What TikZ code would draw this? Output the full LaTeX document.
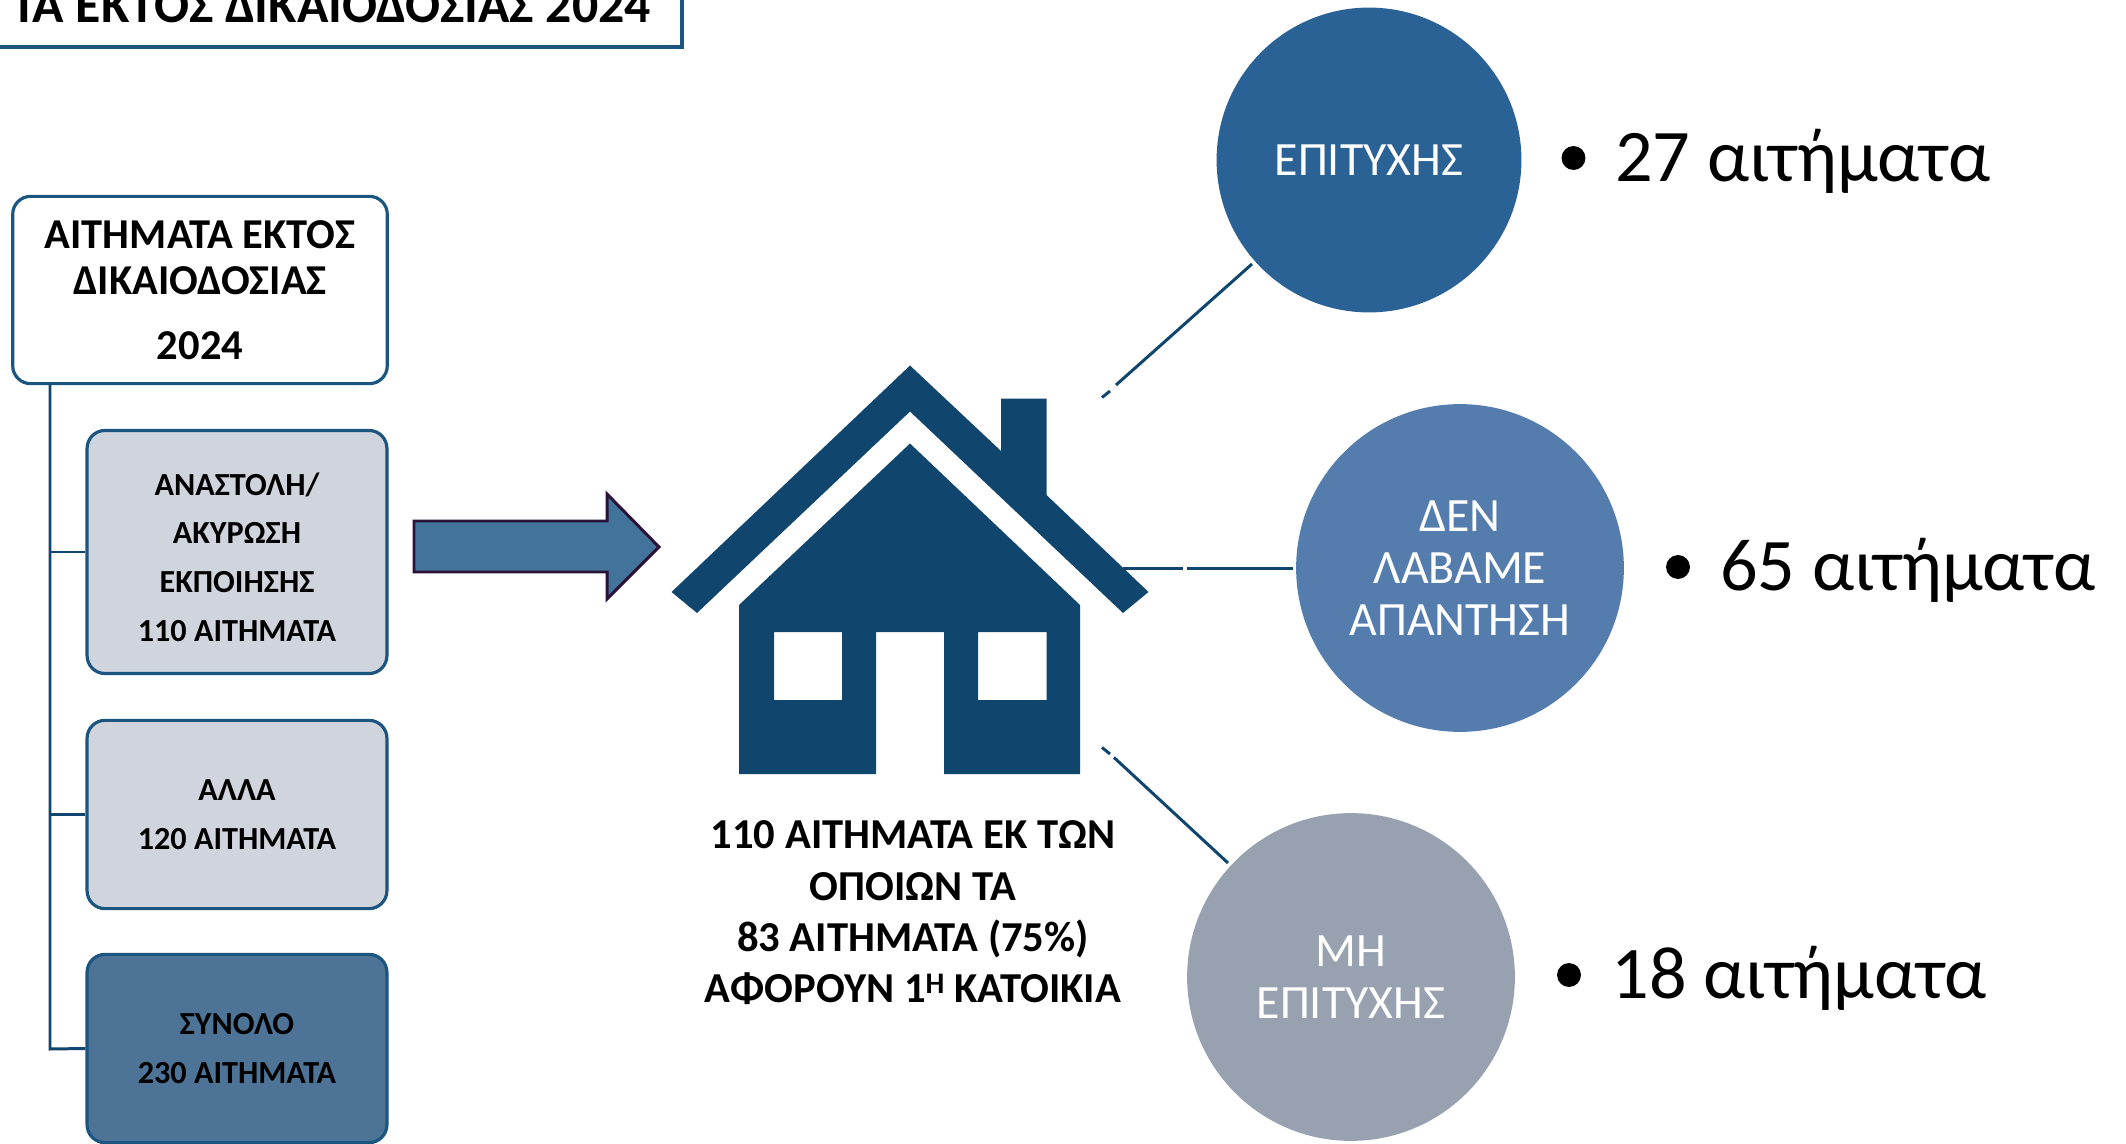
\documentclass[tikz,border=0pt]{standalone}
\usepackage{fontspec}
\setmainfont{Carlito}
\definecolor{navy}{HTML}{10466D}
\definecolor{boxline}{HTML}{1B5580}
\definecolor{light}{HTML}{D0D4DC}
\definecolor{dark}{HTML}{4D7396}
\definecolor{arrowf}{HTML}{42739B}
\definecolor{arrowl}{HTML}{2A1238}
\definecolor{cone}{HTML}{2A6296}
\definecolor{ctwo}{HTML}{547DAE}
\definecolor{cthree}{HTML}{98A1B0}
\tikzset{x=0.0352778cm,y=-0.0352778cm,
 rbox/.style={draw=boxline,line width=3.2pt,rounded corners=18pt,align=center,font=\bfseries\fontsize{32.3}{49}\selectfont,text=black,inner sep=0pt,minimum width=301pt},
 conn/.style={draw=navy,line width=3pt},
 circ/.style={circle,draw=none,inner sep=0pt,text=white,align=center,font=\fontsize{48}{52}\selectfont},
 resultlabel/.style={anchor=base west,font=\fontsize{74.5}{80}\selectfont,text=black,inner sep=0pt},
 bulletdot/.style={circle,fill=black,inner sep=0pt,minimum size=24pt}}
\begin{document}
\begin{tikzpicture}
\useasboundingbox (0,0) rectangle (2126,1144);
% title
\draw[draw=boxline,line width=3.2pt] (-20,-20) rectangle (682,47);
\node[anchor=base east,font=\bfseries\fontsize{52}{56}\selectfont,inner sep=0pt] (title) at (651,23) {ΤΑ ΕΚΤΟΣ ΔΙΚΑΙΟΔΟΣΙΑΣ 2024};
% main box
\node[rbox,fill=white,minimum width=376pt,minimum height=188pt,font=\bfseries\fontsize{42.7}{47}\selectfont] (main) at (200,290) {ΑΙΤΗΜΑΤΑ ΕΚΤΟΣ\\ΔΙΚΑΙΟΔΟΣΙΑΣ\\[18pt]2024};
\node[rbox,fill=light,minimum height=244pt] (b1) at (237,552) {\rule{0pt}{33pt}ΑΝΑΣΤΟΛΗ/\\ΑΚΥΡΩΣΗ\\ΕΚΠΟΙΗΣΗΣ\\110 ΑΙΤΗΜΑΤΑ};
\node[rbox,fill=light,minimum height=189pt] (b2) at (237,814.5) {ΑΛΛΑ\\120 ΑΙΤΗΜΑΤΑ};
\node[rbox,fill=dark,minimum height=189pt] (b3) at (237,1048.5) {ΣΥΝΟΛΟ\\230 ΑΙΤΗΜΑΤΑ};
\coordinate (trunk) at (50,384);
\draw[conn] (trunk) -- (50,1049) -- (b3.west);
\draw[conn] (50,552) -- (b1.west);
\draw[conn] (50,814.5) -- (b2.west);
% arrow
\draw[draw=arrowl,fill=arrowf,line width=3pt] (414,521) -- (607,521) -- (607,494) -- (659,547) -- (607,599) -- (607,572) -- (414,572) -- cycle;
% house
\fill[navy] (910,365.5) -- (1001,451) -- (1001,398.5) -- (1046.5,398.5) -- (1046.5,495) -- (1148.5,592) -- (1123,613) -- (910,411.5) -- (697,613) -- (671.5,592) -- cycle;
\fill[navy,even odd rule] (910,443.5) -- (1080,605) -- (1080,774) -- (944,774) -- (944,632) -- (876,632) -- (876,774) -- (739,774) -- (739,605) -- cycle
 (774,632) rectangle (842,700) (978,632) rectangle (1046.5,700);
\node[align=center,font=\bfseries\fontsize{42.8}{51.5}\selectfont,inner sep=0pt] (cap) at (913,913) {110 ΑΙΤΗΜΑΤΑ ΕΚ ΤΩΝ\\ΟΠΟΙΩΝ ΤΑ\\83 ΑΙΤΗΜΑΤΑ (75\%)\\ΑΦΟΡΟΥΝ 1\textsuperscript{Η} ΚΑΤΟΙΚΙΑ};
% circles
\node[circ,fill=cone,minimum size=306pt] (c1) at (1369,160) {ΕΠΙΤΥΧΗΣ};
\node[circ,fill=ctwo,minimum size=329pt] (c2) at (1460,568) {ΔΕΝ\\ΛΑΒΑΜΕ\\ΑΠΑΝΤΗΣΗ};
\node[circ,fill=cthree,minimum size=329pt] (c3) at (1351,977) {ΜΗ\\ΕΠΙΤΥΧΗΣ};
% connectors
\coordinate (a1) at (1116,385); \coordinate (a2) at (1110,391); \coordinate (a3) at (1102,397.5);
\coordinate (a0) at (1252,264);
\coordinate (d1) at (1183,568.5); \coordinate (d2) at (1187,568.5); \coordinate (d3) at (1123,568.5); \coordinate (d0) at (1293,568.5);
\coordinate (e1) at (1102,747.5); \coordinate (e2) at (1110,754); \coordinate (e3) at (1114,757.5); \coordinate (e0) at (1228,863);
\draw[conn] (a0) -- (a1); \draw[conn] (a2) -- (a3);
\draw[conn] (d3) -- (d1); \draw[conn] (d2) -- (d0);
\draw[conn] (e1) -- (e2); \draw[conn] (e3) -- (e0);
% labels
\node[bulletdot] (p1) at (1573.5,158) {};
\node[resultlabel] (l1) at (1615,182) {27 αιτήματα};
\node[bulletdot] (p2) at (1678,567) {};
\node[resultlabel] (l2) at (1720,590) {65 αιτήματα};
\node[bulletdot] (p3) at (1569,975) {};
\node[resultlabel] (l3) at (1611.5,998) {18 αιτήματα};
\end{tikzpicture}
\end{document}
